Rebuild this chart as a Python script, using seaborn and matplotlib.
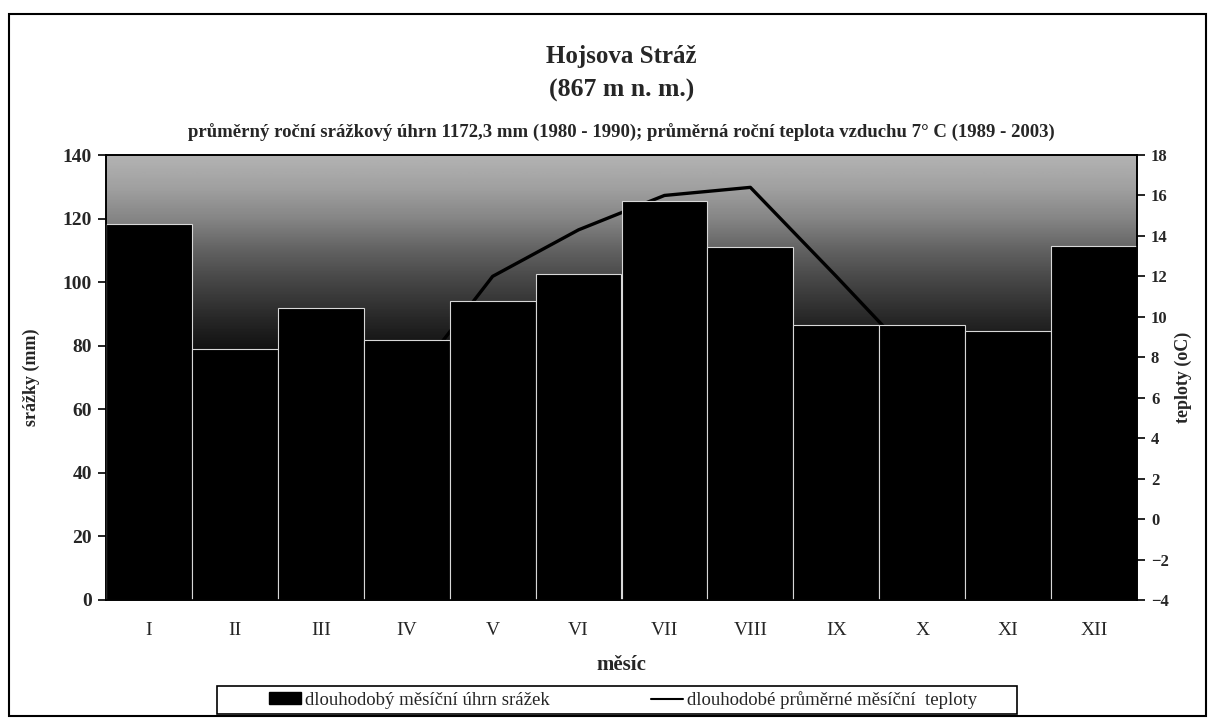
import numpy as np
import pandas as pd
import matplotlib
matplotlib.use("Agg")
import matplotlib.pyplot as plt
import seaborn as sns
from matplotlib.patches import Rectangle, Patch
from matplotlib.lines import Line2D

# ---- data ----
months = ["I", "II", "III", "IV", "V", "VI", "VII", "VIII", "IX", "X", "XI", "XII"]
precip_mm = [118.3, 79.0, 92.0, 81.9, 94.1, 102.7, 125.6, 111.0, 86.6, 86.6, 84.5, 111.5]
temp_c = [-2.5, -1.5, 1.5, 6.5, 12.0, 14.3, 16.0, 16.4, 12.0, 7.5, 2.0, -1.0]

title1 = "Hojsova Stráž"
title2 = "(867 m n. m.)"
subtitle = "průměrný roční srážkový úhrn 1172,3 mm (1980 - 1990); průměrná roční teplota vzduchu 7° C (1989 - 2003)"
xlabel = "měsíc"
ylabel_left = "srážky (mm)"
ylabel_right = "teploty (oC)"
legend_bar = "dlouhodobý měsíční úhrn srážek"
legend_line = "dlouhodobé průměrné měsíční  teploty"

sns.set_theme(style="white")
plt.rcParams["font.family"] = ["Liberation Serif", "DejaVu Serif"]

W, H = 1213, 720
fig = plt.figure(figsize=(W / 100, H / 100), dpi=100)
fig.patch.set_facecolor("white")

L, R, T, B = 106, 1137, 155, 600
ax = fig.add_axes([L / W, 1 - B / H, (R - L) / W, (B - T) / H])
ax2 = ax.twinx()
# temperature axis behind the bars
ax2.set_zorder(ax.get_zorder() - 1)
ax.patch.set_visible(False)
ax2.patch.set_visible(False)

# background shading of plot area (on the back axes)
yy = np.linspace(0, 140, 300)
shade = np.interp(yy, [0, 78, 88, 100, 110, 120, 130, 140],
                  [0.04, 0.06, 0.15, 0.27, 0.38, 0.52, 0.63, 0.70])
img = np.repeat(shade[:, None], 2, axis=1)
ax2.imshow(img, cmap="gray", vmin=0, vmax=1, origin="lower", aspect="auto",
           extent=(0, 1, 0, 1), transform=ax2.transAxes, zorder=0)

sns.lineplot(x=np.arange(len(months)), y=temp_c, color="black", linewidth=2.4, ax=ax2, zorder=3)
ax2.set_ylim(-4, 18)
ax2.set_yticks(np.arange(-4, 19, 2))
ax2.tick_params(axis="y", length=6, width=1.2, color="black", direction="out",
                right=True, labelsize=12, pad=4)
for lab in ax2.get_yticklabels():
    lab.set_fontweight("bold")
ax2.set_ylabel("")

df = pd.DataFrame({"month": months, "precip": precip_mm})
sns.barplot(data=df, x="month", y="precip", color="black", width=1.0,
            edgecolor="#d8d8d8", linewidth=0.8, saturation=1, ax=ax, zorder=2)
for p in ax.patches:
    p.set_facecolor("black")

ax.set_xlim(-0.5, 11.5)
ax2.set_xlim(-0.5, 11.5)
ax.set_ylim(0, 140)
ax.set_yticks(np.arange(0, 141, 20))
ax.set_xlabel("")
ax.set_ylabel("")
ax.set_xticks(np.arange(-0.5, 12, 1), minor=True)
ax.tick_params(axis="x", which="major", length=0, pad=16, labelsize=14)
ax.tick_params(axis="x", which="minor", length=6, width=1.2, color="black", direction="out")
ax.tick_params(axis="y", length=6, width=1.2, color="black", direction="out",
               left=True, labelsize=14, pad=4)
for lab in ax.get_yticklabels():
    lab.set_fontweight("bold")
for a in (ax, ax2):
    for s in a.spines.values():
        s.set_color("black")
        s.set_linewidth(1.2)

# texts
cx = (L + R) / 2 / W
fig.text(cx, 1 - 57 / H, title1, ha="center", va="center", fontsize=18, fontweight="bold")
fig.text(cx, 1 - 90 / H, title2, ha="center", va="center", fontsize=18.5, fontweight="bold")
fig.text(cx, 1 - 133 / H, subtitle, ha="center", va="center", fontsize=13.5, fontweight="bold")
fig.text(cx, 1 - 665 / H, xlabel, ha="center", va="center", fontsize=15, fontweight="bold")
fig.text(31 / W, 1 - (T + B) / 2 / H, ylabel_left, ha="center", va="center",
         rotation=90, fontsize=13, fontweight="bold")
fig.text(1183 / W, 1 - (T + B) / 2 / H, ylabel_right, ha="center", va="center",
         rotation=90, fontsize=13, fontweight="bold")

# legend (frameless) with separate box
handles = [Patch(facecolor="black", edgecolor="black"),
           Line2D([0], [0], color="black", linewidth=1.5)]
leg = fig.legend(handles, [legend_bar, legend_line], loc="center",
                 bbox_to_anchor=(623 / W, 1 - 700 / H), ncol=2, frameon=False,
                 fontsize=13.5, columnspacing=5.4, handlelength=1.7, handletextpad=0.2,
                 borderpad=0.2, handleheight=0.6)
fig.patches.append(Rectangle((217 / W, 1 - 714 / H), (1017 - 217) / W, (714 - 686) / H,
                             transform=fig.transFigure, fill=False,
                             edgecolor="black", linewidth=1.2))

# outer frame
fig.patches.append(Rectangle((9 / W, 1 - 716 / H), (1206 - 9) / W, (716 - 14) / H,
                             transform=fig.transFigure, fill=False,
                             edgecolor="black", linewidth=1.5))

fig.savefig("out.png", dpi=100)
